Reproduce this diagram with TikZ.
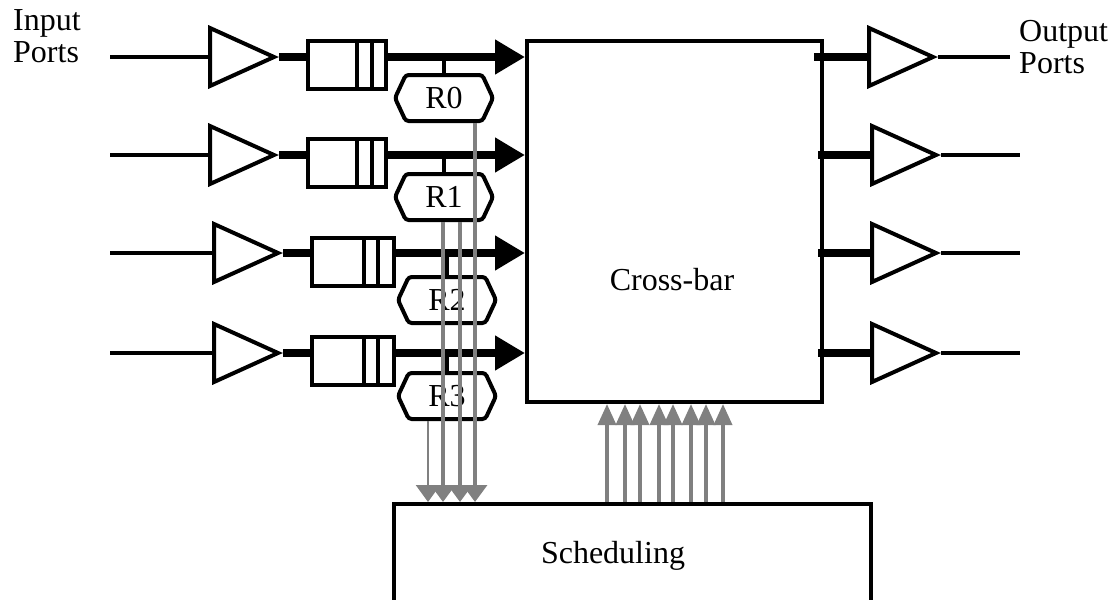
\documentclass[tikz,border=0pt]{standalone}
\usepackage{fontspec}
\setmainfont{Liberation Serif}
\usetikzlibrary{arrows.meta,shapes.geometric,shapes.symbols}

\begin{document}
\begin{tikzpicture}[
                x=1pt,
                y=-1pt,
                font=\fontsize{32}{32}\selectfont,
                amp/.style={
                    isosceles triangle,
                    isosceles triangle stretches,
                    draw,
                    line width=4pt,
                    minimum width=58pt,
                    minimum height=64pt,
                    inner sep=0pt,
                    anchor=lower side
                },
                fifo/.style={
                    rectangle,
                    draw,
                    line width=4pt,
                    minimum height=48pt,
                    inner sep=0pt,
                    anchor=west
                },
                request/.style={
                    signal,
                    signal to=west and east,
                    signal pointer angle=130,
                    draw,
                    fill=white,
                    line width=4pt,
                    rounded corners=3pt,
                    minimum width=98pt,
                    minimum height=46pt,
                    inner sep=0pt
                },
                block/.style={
                    rectangle,
                    draw,
                    line width=4pt,
                    inner sep=0pt
                },
                wire/.style={
                    line width=4pt
                },
                bus/.style={
                    line width=8pt
                },
                busarrow/.style={
                    bus,
                    -{Triangle[length=30pt,width=33pt]}
                },
                ctrl/.style={
                    line width=3.5pt,
                    gray
                },
                ctrldown/.style={
                    ctrl,
                    -{Triangle[length=17pt,width=24pt]}
                },
                ctrlup/.style={
                    ctrl,
                    -{Triangle[length=21pt,width=18pt]}
                }
            ]

                \useasboundingbox (0,0) rectangle (1109,600);
                \clip (0,0) rectangle (1109,600);

                % input ports
                \node[amp] (amp0) at (208,57) {};
                \node[amp] (amp1) at (208,155) {};
                \node[amp] (amp2) at (212,253) {};
                \node[amp] (amp3) at (212,353) {};

                \coordinate (in0) at (110,57);
                \coordinate (in1) at (110,155);
                \coordinate (in2) at (110,253);
                \coordinate (in3) at (110,353);

                \node[fifo, minimum width=78pt] (fifo0) at (306,65) {};
                \node[fifo, minimum width=78pt] (fifo1) at (306,163) {};
                \node[fifo, minimum width=82pt] (fifo2) at (310,262) {};
                \node[fifo, minimum width=82pt] (fifo3) at (310,361) {};

                \node[block, minimum width=295pt, minimum height=361pt] (xbar) at (674.5,221.5) {};
                \node[anchor=base] (xbartext) at (672,290) {Cross-bar};

                \node[request] (req0) at (444,98) {R0};
                \node[request] (req1) at (444,197) {R1};
                \node[request] (req2) at (447,300) {R2};
                \node[request] (req3) at (447,396) {R3};

                \node[block, anchor=north west, minimum width=477pt, minimum height=200pt] (sched) at (392,502) {};
                \node[anchor=base] (schedtext) at (613,563) {Scheduling};

                % output ports
                \node[amp] (oamp0) at (867,57) {};
                \node[amp] (oamp1) at (870,155) {};
                \node[amp] (oamp2) at (870,253) {};
                \node[amp] (oamp3) at (870,353) {};

                \coordinate (out0) at (1010,57);
                \coordinate (out1) at (1020,155);
                \coordinate (out2) at (1020,253);
                \coordinate (out3) at (1020,353);

                \node[align=left, anchor=north west, inner sep=0pt] (inlabel) at (13,9) {Input\\Ports};
                \node[align=left, anchor=north west, inner sep=0pt] (outlabel) at (1019,20) {Output\\Ports};

                \draw[wire] (in0) -- (amp0.lower side);
                \draw[wire] (in1) -- (amp1.lower side);
                \draw[wire] (in2) -- (amp2.lower side);
                \draw[wire] (in3) -- (amp3.lower side);

                \draw[bus] (amp0.apex) -- (amp0.apex -| fifo0.west);
                \draw[bus] (amp1.apex) -- (amp1.apex -| fifo1.west);
                \draw[bus] (amp2.apex) -- (amp2.apex -| fifo2.west);
                \draw[bus] (amp3.apex) -- (amp3.apex -| fifo3.west);

                \draw[wire] ([xshift=-31pt]fifo0.north east) -- ([xshift=-31pt]fifo0.south east);
                \draw[wire] ([xshift=-16pt]fifo0.north east) -- ([xshift=-16pt]fifo0.south east);
                \draw[wire] ([xshift=-31pt]fifo1.north east) -- ([xshift=-31pt]fifo1.south east);
                \draw[wire] ([xshift=-16pt]fifo1.north east) -- ([xshift=-16pt]fifo1.south east);
                \draw[wire] ([xshift=-32pt]fifo2.north east) -- ([xshift=-32pt]fifo2.south east);
                \draw[wire] ([xshift=-18pt]fifo2.north east) -- ([xshift=-18pt]fifo2.south east);
                \draw[wire] ([xshift=-32pt]fifo3.north east) -- ([xshift=-32pt]fifo3.south east);
                \draw[wire] ([xshift=-18pt]fifo3.north east) -- ([xshift=-18pt]fifo3.south east);

                \draw[busarrow] (amp0.apex -| fifo0.east) -- (amp0.apex -| xbar.west);
                \draw[busarrow] (amp1.apex -| fifo1.east) -- (amp1.apex -| xbar.west);
                \draw[busarrow] (amp2.apex -| fifo2.east) -- (amp2.apex -| xbar.west);
                \draw[busarrow] (amp3.apex -| fifo3.east) -- (amp3.apex -| xbar.west);

                \draw[wire] (req0.north) -- (req0.north |- amp0.apex);
                \draw[wire] (req1.north) -- (req1.north |- amp1.apex);
                \draw[wire] (req2.north) -- (req2.north |- amp2.apex);
                \draw[wire] (req3.north) -- (req3.north |- amp3.apex);

                \coordinate (xe0) at ([xshift=-10pt]xbar.east);
                \coordinate (xe1) at ([xshift=-6pt]xbar.east);
                \draw[bus] (xe0 |- oamp0.lower side) -- (oamp0.lower side);
                \draw[bus] (xe1 |- oamp1.lower side) -- (oamp1.lower side);
                \draw[bus] (xe1 |- oamp2.lower side) -- (oamp2.lower side);
                \draw[bus] (xe1 |- oamp3.lower side) -- (oamp3.lower side);

                \draw[wire] (oamp0.apex) -- (out0);
                \draw[wire] (oamp1.apex) -- (out1);
                \draw[wire] (oamp2.apex) -- (out2);
                \draw[wire] (oamp3.apex) -- (out3);

                % requests down to the scheduler
                \coordinate (rq0) at ([xshift=31pt]req0.south);
                \coordinate (rq1) at ([xshift=16pt]req1.south);
                \coordinate (rq2) at ([xshift=-1pt]req1.south);
                \coordinate (rq3) at ([xshift=-19pt]req3.south);
                \draw[ctrldown] (rq0) -- (rq0 |- sched.north);
                \draw[ctrldown] (rq1) -- (rq1 |- sched.north);
                \draw[ctrldown] (rq2) -- (rq2 |- sched.north);
                \draw[ctrldown, line width=2.5pt] (rq3) -- (rq3 |- sched.north);

                % grants up to the cross-bar
                \foreach \x in {607,625,640,659,673,691,706,723}
                    \draw[ctrlup] (sched.north -| \x,0) -- (xbar.south -| \x,0);

            \end{tikzpicture}
\end{document}
